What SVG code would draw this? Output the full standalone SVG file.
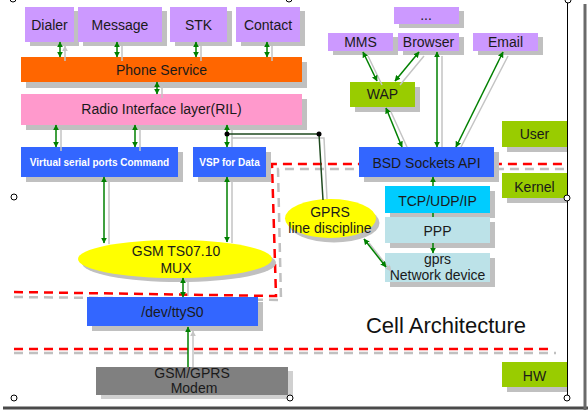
<svg xmlns="http://www.w3.org/2000/svg" width="588" height="412" viewBox="0 0 588 412">
<defs>
<marker id="ag" viewBox="0 0 10 10" refX="9" refY="5" markerWidth="6" markerHeight="6" markerUnits="userSpaceOnUse" orient="auto-start-reverse"><path d="M0,0 L10,5 L0,10 z" fill="#008000"/></marker>
<marker id="ay" viewBox="0 0 10 10" refX="9" refY="5" markerWidth="6" markerHeight="6" markerUnits="userSpaceOnUse" orient="auto-start-reverse"><path d="M0,0 L10,5 L0,10 z" fill="#C4C4C4"/></marker>
<style>
text{font-family:"Liberation Sans",Arial,sans-serif;font-size:14px;fill:#1a1a1a;text-anchor:middle}
.sh{fill:#C0C0C0}
.lav{fill:#CC99FF}
.blue{fill:#3366FF}
.grn{fill:#99CC00}
.lb{fill:#BCE2E8}
.b10{font-size:10px;font-weight:bold;fill:#fff}
.g{stroke:#008000;stroke-width:1.5;fill:none;marker-start:url(#ag);marker-end:url(#ag)}
.gs{stroke:#C4C4C4;stroke-width:1.5;fill:none;marker-start:url(#ay);marker-end:url(#ay)}
.rd{stroke:#FF0000;stroke-width:2.5;fill:none;stroke-dasharray:9 6}
.gd{stroke:#C0C0C0;stroke-width:2.5;fill:none;stroke-dasharray:9 6}
.h{fill:#fff;stroke:#000;stroke-width:1}
</style>
</defs>
<rect width="588" height="412" fill="#fff"/>
<g id="frame">
<line x1="3" y1="408" x2="588" y2="408" stroke="#4a4a4a" stroke-width="3"/>
<line x1="585" y1="4" x2="585" y2="410" stroke="#6a6a6a" stroke-width="3"/>
<line x1="567.5" y1="0" x2="567.5" y2="398" stroke="#000" stroke-width="1"/>
</g>
<g id="boundaries">
<path class="gd" d="M14,297 L281,300 L278,169 L567,169"/>
<path class="rd" d="M14,292 L276,296 L272,164 L567,164"/>
<path class="gd" d="M14,353 H556"/>
<path class="rd" d="M14,349 H552"/>
</g>
<g id="dialer"><rect class="sh" x="30" y="11" width="49" height="35"/><rect class="lav" x="25" y="7" width="49" height="35"/><text x="49.5" y="30">Dialer</text></g>
<g id="message"><rect class="sh" x="83" y="11" width="84" height="35"/><rect class="lav" x="78" y="7" width="84" height="35"/><text x="120" y="30">Message</text></g>
<g id="stk"><rect class="sh" x="175" y="11" width="57" height="35"/><rect class="lav" x="170" y="7" width="57" height="35"/><text x="198.5" y="30">STK</text></g>
<g id="contact"><rect class="sh" x="241" y="11" width="64" height="35"/><rect class="lav" x="236" y="7" width="64" height="35"/><text x="268" y="30">Contact</text></g>
<g id="phone-service"><rect class="sh" x="26" y="62" width="281" height="26"/><rect fill="#FF6600" x="21" y="57" width="281" height="25"/><text x="161.5" y="75">Phone Service</text></g>
<g id="ril"><rect class="sh" x="26" y="99" width="281" height="31"/><rect fill="#FF99CC" x="21" y="94" width="281" height="31"/><text x="161.5" y="114">Radio Interface layer(RIL)</text></g>
<g id="vsp-command"><rect class="sh" x="26" y="152" width="157" height="30"/><rect class="blue" x="21" y="147" width="157" height="30"/><text class="b10" x="99.5" y="166">Virtual serial ports Command</text></g>
<g id="vsp-data"><rect class="sh" x="198" y="152" width="73" height="30"/><rect class="blue" x="193" y="147" width="73" height="30"/><text class="b10" x="229.5" y="166">VSP for Data</text></g>
<g id="mux"><ellipse class="sh" cx="179" cy="263" rx="97" ry="19"/><ellipse fill="#FFFF00" cx="175" cy="259" rx="97" ry="19"/><text x="176" y="256">GSM TS07.10</text><text x="176" y="273">MUX</text></g>
<g id="ttys0"><rect class="sh" x="92" y="302" width="171" height="29"/><rect class="blue" x="87" y="297" width="171" height="29"/><text x="172.5" y="317">/dev/ttyS0</text></g>
<g id="modem"><rect fill="#D0D0D0" x="101" y="371" width="192" height="28"/><rect fill="#808080" x="96" y="367" width="192" height="28"/><text x="192" y="378" fill="#2a2a2a">GSM/GPRS</text><text x="194" y="393" fill="#2a2a2a">Modem</text></g>
<g id="more"><rect class="sh" x="399" y="11" width="65" height="17"/><rect class="lav" x="394" y="7" width="65" height="17"/><text x="426" y="20">...</text></g>
<g id="mms"><rect class="sh" x="333" y="37" width="65" height="18"/><rect class="lav" x="328" y="33" width="65" height="18"/><text x="360.5" y="47">MMS</text></g>
<g id="browser"><rect class="sh" x="403" y="37" width="61" height="18"/><rect class="lav" x="398" y="33" width="61" height="18"/><text x="428.5" y="47">Browser</text></g>
<g id="email"><rect class="sh" x="478" y="37" width="65" height="18"/><rect class="lav" x="473" y="33" width="65" height="18"/><text x="505.5" y="47">Email</text></g>
<g id="wap"><rect class="sh" x="355" y="87" width="65" height="25"/><rect class="grn" x="350" y="82" width="65" height="25"/><text x="382.5" y="99">WAP</text></g>
<g id="bsd"><rect class="sh" x="364" y="152" width="135" height="30"/><rect class="blue" x="359" y="147" width="135" height="30"/><text x="426.5" y="168" fill="#fff">BSD Sockets API</text></g>
<g id="user"><rect class="sh" x="507" y="126" width="60" height="26"/><rect class="grn" x="502" y="121" width="65" height="26"/><text x="534.5" y="139">User</text></g>
<g id="kernel"><rect class="sh" x="507" y="178" width="60" height="25"/><rect class="grn" x="502" y="173" width="65" height="25"/><text x="534.5" y="192">Kernel</text></g>
<g id="hw"><rect class="sh" x="507" y="367" width="60" height="25"/><rect class="grn" x="502" y="362" width="65" height="25"/><text x="534.5" y="381">HW</text></g>
<g id="tcp"><rect class="sh" x="390" y="191" width="105" height="27"/><rect fill="#00CCFF" x="385" y="186" width="105" height="27"/><text x="437.5" y="206">TCP/UDP/IP</text></g>
<g id="ppp"><rect class="sh" x="390" y="222" width="105" height="26"/><rect class="lb" x="385" y="217" width="105" height="26"/><text x="437.5" y="236">PPP</text></g>
<g id="gprs-device"><rect class="sh" x="390" y="258" width="105" height="29"/><rect class="lb" x="385" y="253" width="105" height="29"/><text x="437.5" y="264">gprs</text><text x="437.5" y="280">Network device</text></g>
<g id="gprs-ld"><ellipse class="sh" cx="334" cy="223" rx="45.5" ry="19.5"/><ellipse fill="#FFFF00" cx="330.5" cy="218.5" rx="45.5" ry="19.5"/><text x="330" y="217">GPRS</text><text x="330" y="233">line discipline</text></g>
<g id="title"><text x="446" y="333" style="font-size:22px;fill:#111">Cell Architecture</text></g>
<g id="connectors">
<g transform="translate(5,4)">
<path class="gs" d="M60,42 V57 M117,42 V57 M196,42 V57 M267,42 V57 M157,82 V94 M56,125 V147 M135,125 V147 M227,125 V143 M104,177 V240 M227,177 V239 M183,278 V292 M363,52 L377,81 M419,52 L395,81 M437,52 V143 M503,52 L456,143 M386,108 L402,143 M364,239 L386,267"/>
<path d="M188,363 V327" stroke="#C4C4C4" stroke-width="1.5" marker-end="url(#ay)"/>
</g>
<path d="M232,138 H324 L327,199" stroke="#C4C4C4" stroke-width="1.5" fill="none"/>
<path class="g" d="M60,42 V57"/>
<path class="g" d="M117,42 V57"/>
<path class="g" d="M196,42 V57"/>
<path class="g" d="M267,42 V57"/>
<path class="g" d="M157,82 V94"/>
<path class="g" d="M56,125 V147"/>
<path class="g" d="M135,125 V147"/>
<path class="g" d="M227,125 V147"/>
<path class="g" d="M104,177 V243"/>
<path class="g" d="M227,177 V242"/>
<path class="g" d="M183,278 V297"/>
<path d="M188,367 V327" stroke="#008000" stroke-width="1.5" marker-end="url(#ag)"/>
<path class="g" d="M363,52 L377,81"/>
<path class="g" d="M419,52 L395,81"/>
<path class="g" d="M437,52 V147"/>
<path class="g" d="M503,52 L456,147"/>
<path class="g" d="M386,108 L402,147"/>
<path d="M433,186 V177" stroke="#008000" stroke-width="1.5" marker-end="url(#ag)"/>
<path d="M433,213 V217" stroke="#008000" stroke-width="1.5"/>
<path d="M433,243 V253" stroke="#008000" stroke-width="1.5" marker-end="url(#ag)"/>
<path class="g" d="M364,239 L386,267"/>
<path d="M227,134 H319 L323,200" stroke="#1F4A1F" stroke-width="1.5" fill="none"/>
<circle cx="227" cy="134" r="2.5" fill="#000"/>
<circle cx="319" cy="134" r="2.5" fill="#000"/>
</g>
<g id="handles">
<circle class="h" cx="13" cy="-1" r="3"/>
<circle class="h" cx="289" cy="-1" r="3"/>
<circle class="h" cx="568" cy="0" r="3"/>
<circle class="h" cx="14" cy="197" r="3"/>
<circle class="h" cx="567" cy="198" r="3"/>
<circle class="h" cx="14" cy="398" r="3"/>
<circle class="h" cx="290" cy="398" r="3"/>
<circle class="h" cx="567" cy="398" r="3"/>
</g>
</svg>
